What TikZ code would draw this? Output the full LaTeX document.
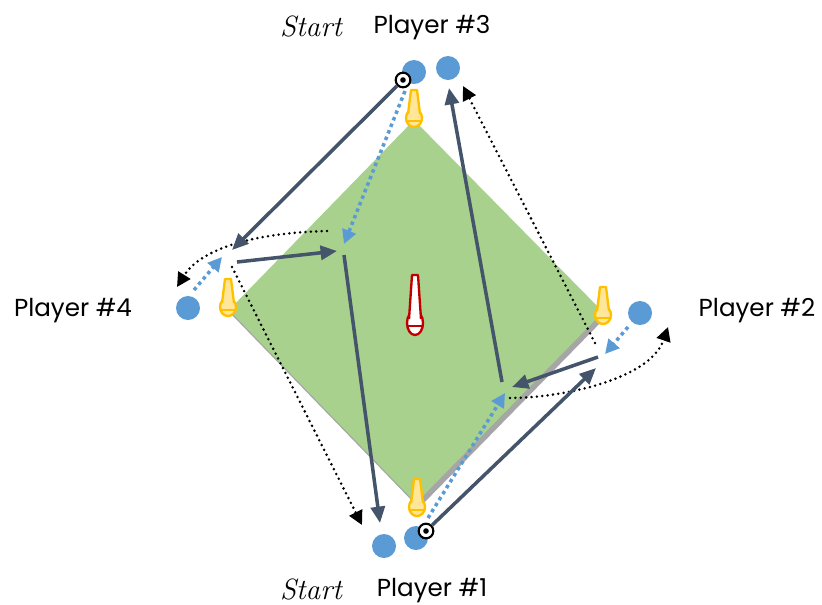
\documentclass[tikz,border=0pt]{standalone}
\usepackage{fontspec}
\setmainfont{Poppins}
\newfontfamily\handfont{Latin Modern Roman}
\usetikzlibrary{arrows.meta}
\definecolor{slate}{HTML}{44546A}
\definecolor{ballblue}{HTML}{5B9BD5}
\definecolor{field}{HTML}{A9D18E}
\definecolor{fieldshadow}{HTML}{A6A6A6}
\definecolor{conegold}{HTML}{FFC000}
\definecolor{conelight}{HTML}{FFE699}
\definecolor{conered}{HTML}{C00000}

\tikzset{
  player/.style={circle, fill=ballblue, inner sep=0pt, minimum size=0.72cm},
  ball/.style={circle, draw=black, line width=1.8pt, fill=white, inner sep=0pt, minimum size=0.44cm},
  playername/.style={font=\fontsize{21}{25}\selectfont},
  startlabel/.style={font=\handfont\itshape\fontsize{25}{28}\selectfont},
  run/.style={slate, line width=3pt, -{Triangle[length=14pt,width=12pt]}},
  pass/.style={ballblue, line width=3pt, dash pattern=on 3pt off 3pt, -{Triangle[length=12pt,width=12pt]}},
  move/.style={black, line width=2.4pt, dash pattern=on 0pt off 4.6pt, line cap=round, -{Triangle[length=12pt,width=12pt]}},
  pics/cone/.style n args={4}{code={
    \draw[#1, line width=2pt, fill=#2] (0,0) ellipse (8 and #4);
    \draw[#1, line width=2pt, fill=#2, line join=round] (-6,-4) -- (-3,-#3) -- (3,-#3) -- (6,-4);
    \draw[#1, line width=2pt] (-7,3) -- (7,3);
  }}
}

\begin{document}
\begin{tikzpicture}[x=0.03cm, y=-0.03cm]
    \useasboundingbox (0,0) rectangle (822,604);

    % field
    \fill[fieldshadow] (232,315) -- (417,125) -- (606,317) -- (419,508) -- cycle;
    \fill[field] (229,310) -- (414,120) -- (603,312) -- (416,503) -- cycle;

    % cones
    \pic at (414,118) {cone={conegold}{conelight}{28}{9}};
    \pic at (228,307) {cone={conegold}{conelight}{28}{9}};
    \pic at (603,315) {cone={conegold}{conelight}{28}{9}};
    \pic at (417,507) {cone={conegold}{conelight}{28}{9}};
    \pic at (415,323) {cone={conered}{white}{48}{12}};

    % players
    \node[player] (p3a) at (414,72) {};
    \node[player] (p3b) at (448,68) {};
    \node[player] (p4) at (188,308) {};
    \node[player] (p2) at (640,313) {};
    \node[player] (p1a) at (384,546) {};
    \node[player] (p1b) at (416,538) {};

    \node[startlabel] (s3) at (311,26) {Start};
    \node[playername] (n3) at (432,28) {Player \#3};
    \node[playername] (n4) at (73,311) {Player \#4};
    \node[playername] (n2) at (757,311) {Player \#2};
    \node[startlabel] (s1) at (311,589) {Start};
    \node[playername] (n1) at (432,591) {Player \#1};

    % arrow ends
    \coordinate (c1) at (232,250);
    \coordinate (c2s) at (237,262);
    \coordinate (c2e) at (337,251);
    \coordinate (c3s) at (344,255);
    \coordinate (c3e) at (380,523);
    \coordinate (c4e) at (596,368);
    \coordinate (c5s) at (598,357);
    \coordinate (c5e) at (512,387);
    \coordinate (c6s) at (502,382);
    \coordinate (c6e) at (449,88);

    \coordinate (d1s) at (405,91);
    \coordinate (d1e) at (344,244);
    \coordinate (d2s) at (194,290);
    \coordinate (d2e) at (222,257);
    \coordinate (d3s) at (628,327);
    \coordinate (d3e) at (605,354);
    \coordinate (d4s) at (428,518);
    \coordinate (d4e) at (505,393);

    \coordinate (m1s) at (327,231);
    \coordinate (m1e) at (177,287);
    \coordinate (m2s) at (232,267);
    \coordinate (m2e) at (362,525);
    \coordinate (m3s) at (510,398);
    \coordinate (m3e) at (668,327);
    \coordinate (m4s) at (595,343);
    \coordinate (m4e) at (463,86);

    % passes
    \draw[pass] (d1s) -- (d1e);
    \draw[pass] (d2s) -- (d2e);
    \draw[pass] (d3s) -- (d3e);
    \draw[pass] (d4s) -- (d4e);

    % runs without ball
    \draw[move] (m1s) .. controls (250,233) and (200,250) .. (m1e);
    \draw[move] (m2s) -- (m2e);
    \draw[move] (m3s) .. controls (560,398) and (650,380) .. (m3e);
    \draw[move] (m4s) -- (m4e);

    % balls
    \node[ball] (b3) at (403,80) {};
    \node[ball] (b1) at (426,531) {};
    \fill (b3) circle (2.8);
    \fill (b1) circle (2.8);

    % runs
    \draw[run] (b3) -- (c1);
    \draw[run] (c2s) -- (c2e);
    \draw[run] (c3s) -- (c3e);
    \draw[run] (b1) -- (c4e);
    \draw[run] (c5s) -- (c5e);
    \draw[run] (c6s) -- (c6e);
\end{tikzpicture}
\end{document}
